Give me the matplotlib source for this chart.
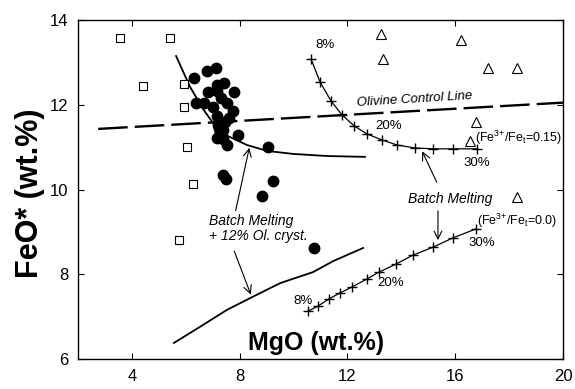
import matplotlib.pyplot as plt
import numpy as np

plt.rcParams['font.family'] = ['Liberation Sans', 'DejaVu Sans']
plt.rcParams['mathtext.fontset'] = 'custom'
plt.rcParams['mathtext.rm'] = 'Liberation Sans'
plt.rcParams['mathtext.it'] = 'Liberation Sans:italic'

# open squares
sq_mgo = [3.56, 5.41, 4.41, 5.93, 5.93, 6.05, 6.27, 5.75]
sq_feo = [13.58, 13.58, 12.44, 12.49, 11.95, 11.00, 10.13, 8.81]

# open triangles
tri_mgo = [13.25, 16.22, 13.32, 17.22, 18.30, 16.77, 16.55, 18.30]
tri_feo = [13.67, 13.53, 13.08, 12.87, 12.87, 11.59, 11.14, 9.82]

# filled circles
dot_mgo = [6.31, 6.79, 7.12, 7.16, 7.42, 7.79, 6.83, 7.16, 6.38, 6.68, 7.31, 7.53,
           7.01, 7.75, 7.60, 7.16, 7.20, 7.27, 7.38, 7.16, 7.38, 7.53, 7.94, 9.05,
           7.38, 7.49, 9.24, 8.83, 10.76, 7.25, 7.32, 7.22, 7.45]
dot_feo = [12.63, 12.80, 12.87, 12.47, 12.51, 12.30, 12.30, 12.33, 12.04, 12.04, 12.16, 12.04,
           11.95, 11.85, 11.69, 11.74, 11.52, 11.36, 11.40, 11.22, 11.19, 11.05, 11.29, 11.01,
           10.34, 10.25, 10.20, 9.85, 8.61, 11.62, 11.28, 11.45, 11.60]

# batch melting Fe3+/Fet = 0.15 (8% .. 30%)
bm15_mgo = [10.65, 10.98, 11.39, 11.80, 12.25, 12.73, 13.28, 13.84, 14.51, 15.18, 15.92, 16.81]
bm15_feo = [13.08, 12.54, 12.09, 11.76, 11.50, 11.31, 11.17, 11.05, 10.98, 10.96, 10.96, 10.96]

# batch melting Fe3+/Fet = 0.0 (8% .. 30%)
bm0_mgo = [10.54, 10.91, 11.32, 11.73, 12.17, 12.73, 13.17, 13.80, 14.43, 15.18, 15.92, 16.77]
bm0_feo = [7.13, 7.25, 7.42, 7.56, 7.70, 7.89, 8.05, 8.24, 8.45, 8.64, 8.86, 9.07]

# batch melting + 12% olivine crystallisation
ol15_mgo = [5.64, 6.16, 6.64, 7.01, 7.57, 8.27, 9.02, 9.98, 11.24, 12.65]
ol15_feo = [13.15, 12.42, 11.90, 11.57, 11.26, 11.05, 10.91, 10.84, 10.79, 10.77]
ol0_mgo = [5.56, 6.53, 7.53, 8.46, 9.50, 10.72, 11.47, 12.58]
ol0_feo = [6.38, 6.76, 7.16, 7.46, 7.79, 8.05, 8.31, 8.62]

# olivine control line
ocl_mgo = [2.75, 20.0]
ocl_feo = [11.43, 12.05]

fig = plt.figure(figsize=(5.75, 3.89), dpi=100)
ax = fig.add_axes([78 / 575, 30 / 389, 485 / 575, 339 / 389])

ax.plot(ocl_mgo, ocl_feo, color='black', lw=1.7, dashes=(12.5, 3))
ax.plot(ol15_mgo, ol15_feo, color='black', lw=1.3)
ax.plot(ol0_mgo, ol0_feo, color='black', lw=1.3)
ax.plot(bm15_mgo, bm15_feo, color='black', lw=0.9, marker='+', ms=7, mew=1.0)
ax.plot(bm0_mgo, bm0_feo, color='black', lw=0.9, marker='+', ms=7, mew=1.0)

ax.plot(sq_mgo, sq_feo, ls='none', marker='s', ms=5.5, mfc='white', mec='black', mew=0.8)
ax.plot(tri_mgo, tri_feo, ls='none', marker='^', ms=6.5, mfc='white', mec='black', mew=0.8)
ax.plot(dot_mgo, dot_feo, ls='none', marker='o', ms=7.5, color='black')

fs = 9.5
ax.text(14.5, 12.12, 'Olivine Control Line', style='italic', fontsize=fs,
        rotation=3.5, ha='center', va='center')
ax.text(11.17, 13.41, '8%', fontsize=fs, ha='center', va='center')
ax.text(13.54, 11.50, '20%', fontsize=fs, ha='center', va='center')
ax.text(16.80, 10.63, '30%', fontsize=fs, ha='center', va='center')
ax.text(10.35, 7.37, '8%', fontsize=fs, ha='center', va='center')
ax.text(13.62, 7.79, '20%', fontsize=fs, ha='center', va='center')
ax.text(16.98, 8.74, '30%', fontsize=fs, ha='center', va='center')
ax.text(16.74, 11.22, r'(Fe$^{3{+}}$/Fe$_{\mathrm{t}}$=0.15)', fontsize=9, ha='left', va='center')
ax.text(16.80, 9.27, r'(Fe$^{3{+}}$/Fe$_{\mathrm{t}}$=0.0)', fontsize=9, ha='left', va='center')

ax.text(6.87, 9.09, 'Batch Melting\n+ 12% Ol. cryst.', style='italic', fontsize=10,
        ha='left', va='center', linespacing=1.1)
ax.text(15.81, 9.78, 'Batch Melting', style='italic', fontsize=10, ha='center', va='center')

arr = dict(arrowstyle='->', color='black', lw=0.8, mutation_scale=14)
ax.annotate('', xy=(8.38, 11.05), xytext=(7.83, 9.44), arrowprops=arr)
ax.annotate('', xy=(8.45, 7.46), xytext=(7.76, 8.61), arrowprops=arr)
ax.annotate('', xy=(14.73, 10.96), xytext=(15.36, 10.11), arrowprops=arr)
ax.annotate('', xy=(15.36, 8.74), xytext=(15.36, 9.56), arrowprops=arr)

ax.set_xlim(2, 20)
ax.set_ylim(6, 14)
ax.set_xticks([4, 8, 12, 16, 20])
ax.set_yticks([6, 8, 10, 12, 14])
ax.tick_params(direction='in', top=True, right=True, length=4, width=0.8,
               labelsize=12, pad=7)
for s in ax.spines.values():
    s.set_linewidth(1.0)

ax.text(0.49, 0.047, 'MgO (wt.%)', transform=ax.transAxes, fontsize=18,
        fontweight='bold', ha='center', va='center')
fig.text(30 / 575, 1 - 193 / 389, 'FeO* (wt.%)', rotation=90, fontsize=22,
         fontweight='bold', ha='center', va='center')

fig.savefig('out.png', dpi=100)
